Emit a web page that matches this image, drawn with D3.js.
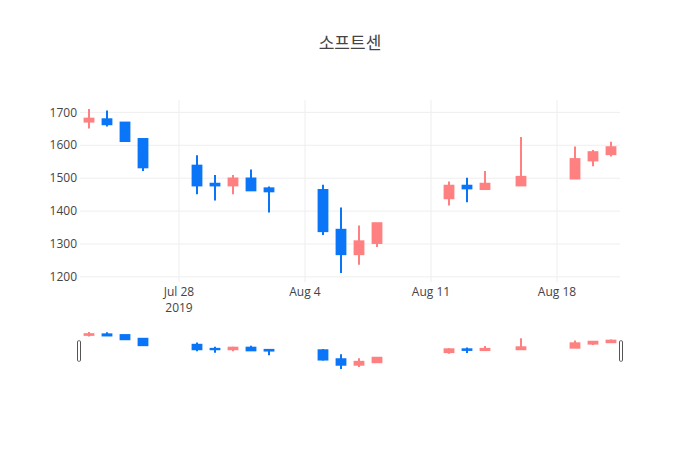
<!DOCTYPE html>
<html>
<head>
<meta charset="utf-8">
<script src="https://cdn.jsdelivr.net/npm/d3@7"></script>
<style>
  body { margin: 0; background: #fff; }
  text { font-family: "Open Sans", verdana, arial, sans-serif; }
</style>
</head>
<body>
<div id="candle_div"></div>
<script>
// daily prices
const dates = ["2019-07-23", "2019-07-24", "2019-07-25", "2019-07-26", "2019-07-29", "2019-07-30",
  "2019-07-31", "2019-08-01", "2019-08-02", "2019-08-05", "2019-08-06", "2019-08-07", "2019-08-08",
  "2019-08-12", "2019-08-13", "2019-08-14", "2019-08-16", "2019-08-19", "2019-08-20", "2019-08-21"]
const openVals  = [1672, 1679, 1669, 1619, 1538, 1483, 1478, 1499, 1469, 1464, 1343, 1269, 1303, 1439, 1477, 1467, 1478, 1499, 1554, 1573]
const highVals  = [1710, 1706, 1669, 1619, 1570, 1510, 1510, 1526, 1475, 1480, 1411, 1356, 1364, 1490, 1501, 1522, 1625, 1596, 1586, 1611]
const lowVals   = [1651, 1657, 1612, 1522, 1451, 1432, 1451, 1463, 1396, 1327, 1212, 1237, 1291, 1417, 1427, 1467, 1478, 1499, 1536, 1566]
const closeVals = [1681, 1664, 1613, 1533, 1478, 1478, 1499, 1463, 1460, 1339, 1269, 1308, 1363, 1477, 1469, 1483, 1504, 1558, 1579, 1594]

const yTicks = [1200, 1300, 1400, 1500, 1600, 1700]
const xTicks = ["2019-07-28", "2019-08-04", "2019-08-11", "2019-08-18"]
const chartTitle = "소프트센"

function candle_chart() {
  const parse = d3.utcParse("%Y-%m-%d")
  let data = dates.map((d, i) => ({
    date: parse(d), open: openVals[i], high: highVals[i], low: lowVals[i], close: closeVals[i]
  }))

  let width = 700, height = 450
  let margin = {top: 100, left: 80, right: 80}
  let plotBottom = 282
  let slider = {top: 330, bottom: 371}

  const upColor = "#ff8080", downColor = "#0a75f7"
  const dayMs = 24 * 3600 * 1000

  let svg = d3.select("#candle_div")
    .append("svg")
    .attr("width", width)
    .attr("height", height)

  // half a day of padding on both sides
  let xScale = d3.scaleUtc()
    .domain([new Date(+data[0].date - dayMs / 2), new Date(+data[data.length - 1].date + dayMs / 2)])
    .range([margin.left, width - margin.right])

  let lo = d3.min(data, d => d.low), hi = d3.max(data, d => d.high)
  let pad = (hi - lo) * 0.05 / 0.9
  let yScale = d3.scaleLinear()
    .domain([lo - pad, hi + pad])
    .range([plotBottom, margin.top])

  let ySlider = d3.scaleLinear()
    .domain(yScale.domain())
    .range([slider.bottom, slider.top])

  let dayPx = xScale(new Date(+data[0].date + dayMs)) - xScale(data[0].date)
  let bodyW = dayPx * 0.6 - 2

  // grid
  svg.append("g")
    .selectAll("line")
    .data(yTicks)
    .join("line")
    .attr("x1", margin.left)
    .attr("x2", width - margin.right)
    .attr("y1", d => yScale(d))
    .attr("y2", d => yScale(d))
    .attr("stroke", "#eee")

  svg.append("g")
    .selectAll("line")
    .data(xTicks)
    .join("line")
    .attr("x1", d => xScale(parse(d)))
    .attr("x2", d => xScale(parse(d)))
    .attr("y1", margin.top)
    .attr("y2", plotBottom)
    .attr("stroke", "#eee")

  // axis labels
  svg.append("g")
    .selectAll("text")
    .data(yTicks)
    .join("text")
    .attr("x", margin.left - 3)
    .attr("y", d => yScale(d))
    .attr("dy", "0.35em")
    .attr("text-anchor", "end")
    .attr("font-size", 12)
    .attr("fill", "#444")
    .text(d => d)

  let fmt = d3.utcFormat("%b %-d")
  let xl = svg.append("g")
    .selectAll("text")
    .data(xTicks)
    .join("text")
    .attr("x", d => xScale(parse(d)))
    .attr("y", plotBottom + 14)
    .attr("text-anchor", "middle")
    .attr("font-size", 12)
    .attr("fill", "#444")
  xl.append("tspan").text(d => fmt(parse(d)))
  xl.filter((d, i) => i == 0)
    .append("tspan")
    .attr("x", d => xScale(parse(d)))
    .attr("dy", 16)
    .text(d => d3.utcFormat("%Y")(parse(d)))

  // candles, drawn on main plot and in the range slider
  function draw_candles(g, y, lw) {
    let c = g.selectAll("g")
      .data(data)
      .join("g")
      .attr("stroke", d => d.close >= d.open ? upColor : downColor)
      .attr("fill", d => d.close >= d.open ? upColor : downColor)
    c.append("line")
      .attr("x1", d => xScale(d.date))
      .attr("x2", d => xScale(d.date))
      .attr("y1", d => y(d.high))
      .attr("y2", d => y(d.low))
      .attr("stroke-width", lw)
    c.append("rect")
      .attr("x", d => xScale(d.date) - bodyW / 2)
      .attr("width", bodyW)
      .attr("y", d => y(Math.max(d.open, d.close)))
      .attr("height", d => Math.abs(y(d.open) - y(d.close)))
      .attr("stroke-width", lw)
  }

  draw_candles(svg.append("g"), yScale, 2)
  draw_candles(svg.append("g"), ySlider, 2)

  // slider grabbers
  let hh = (slider.bottom - slider.top) / 2
  svg.append("g")
    .selectAll("rect")
    .data([margin.left, width - margin.right])
    .join("rect")
    .attr("x", (d, i) => i == 0 ? d - 2.5 : d - 0.5)
    .attr("y", slider.top + hh / 2 + 0.5)
    .attr("width", 3)
    .attr("height", hh)
    .attr("rx", 1)
    .attr("fill", "#fff")
    .attr("stroke", "#555")
    .attr("stroke-width", 1)

  svg.append("text")
    .attr("x", width / 2)
    .attr("y", 49)
    .attr("text-anchor", "middle")
    .attr("font-size", 17)
    .attr("fill", "#444")
    .style("font-family", "'Open Sans', 'Noto Sans CJK KR', sans-serif")
    .text(chartTitle)
}

candle_chart();
</script>
</body>
</html>
